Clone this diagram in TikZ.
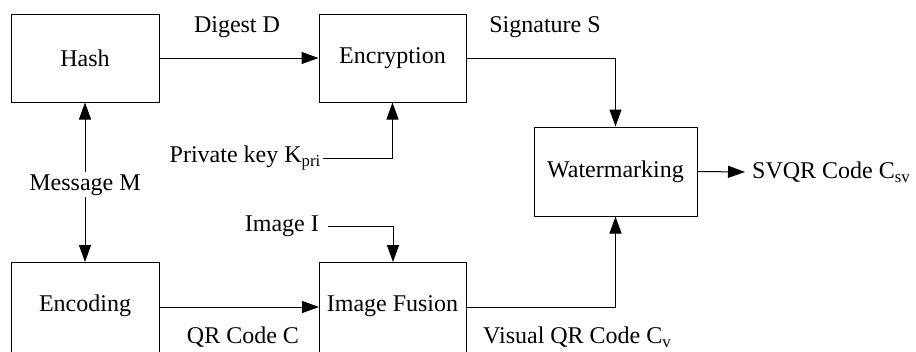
\documentclass[tikz,border=0pt]{standalone}
\usepackage{fontspec}
\setmainfont{Liberation Serif}
\usetikzlibrary{arrows.meta}
\begin{document}
\begin{tikzpicture}[x=1pt,y=-1pt,
  blk/.style={draw,line width=1pt,minimum width=148pt,inner sep=0pt,font=\fontsize{24}{28}\selectfont},
  lbl/.style={inner sep=0pt,font=\fontsize{24}{28}\selectfont},
  conn/.style={line width=1pt,-{Triangle[length=17pt,width=12pt]}},
  wire/.style={line width=1pt}]
\useasboundingbox (0,0) rectangle (916,351);
\clip (0,0) rectangle (916,351);
% boxes
\node[blk,minimum height=88pt] (hash) at (85,58) {Hash};
\node[blk,minimum height=88pt,minimum width=147pt] (enc) at (392.5,58) {Encryption};
\node[blk,minimum height=89pt,minimum width=163pt] (wm) at (615.5,171.5) {Watermarking};
\draw[wire] (11,262) -- (11,370) (159,262) -- (159,370) (11,262) -- (159,262);
\node[lbl] (encd) at (85,306) {Encoding};
\draw[wire] (319,262) -- (319,370) (466,262) -- (466,370) (319,262) -- (466,262);
\node[lbl] (fus) at (392.5,306) {Image Fusion};
\coordinate (encdtop) at (85,262);
\coordinate (encdE) at (159,307);
\coordinate (fusW) at (319,307);
\coordinate (fusE) at (466,307);
\coordinate (fustop) at (393,262);
% labels
\node[lbl] (dig) at (237,27) {Digest D};
\node[lbl] (sig) at (545,27) {Signature S};
\node[lbl,anchor=east] (pk) at (321,158) {Private key K\textsubscript{pri}};
\node[lbl] (msg) at (85,185) {Message M};
\node[lbl,anchor=east] (img) at (319,226) {Image I};
\node[lbl] (qrc) at (243,337) {QR Code C};
\node[lbl,anchor=west] (vqr) at (483,337) {Visual QR Code C\textsubscript{v}};
\node[lbl,anchor=west] (svqr) at (752,172) {SVQR Code C\textsubscript{sv}};
\coordinate (msgtop) at (85,172);
\coordinate (msgbot) at (85,197);
\coordinate (pkend) at (323,158);
\coordinate (imgend) at (328,226);
\coordinate (svend) at (745,172);
% connectors
\draw[conn] (hash.east) -- (enc.west);
\draw[conn] (enc.east) -| (wm.north);
\draw[conn] (pkend) -| (enc.south);
\draw[conn] (msgtop) -- (hash.south);
\draw[conn] (msgbot) -- (encdtop);
\draw[conn] (encdE) -- (fusW);
\draw[conn] (imgend) -| (fustop);
\draw[conn] (fusE) -| (wm.south);
\draw[conn] (wm.east) -- (svend);
\end{tikzpicture}
\end{document}
